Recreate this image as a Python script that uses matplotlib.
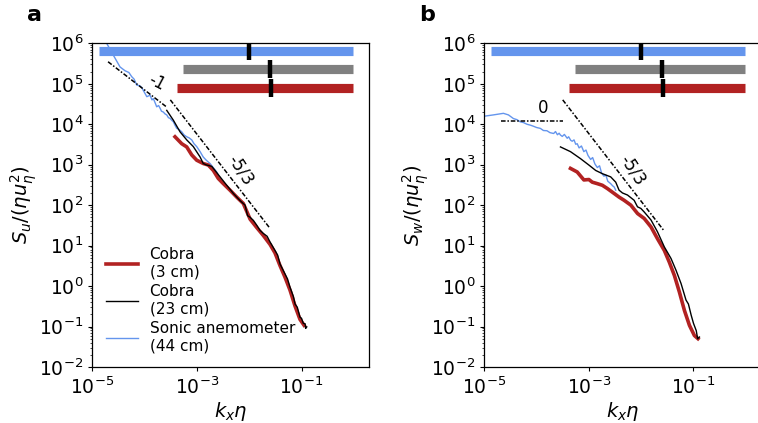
import matplotlib
matplotlib.use("Agg")
import matplotlib.pyplot as plt
from matplotlib.ticker import LogLocator, NullLocator, NullFormatter

# ---------------- data ----------------
# Panel a : streamwise spectra
a_sonic_x = [1.6e-5, 1.88e-5, 2.52e-5, 3.39e-5, 4.22e-5, 5.0e-5, 5.66e-5, 6.3e-5, 7.06e-5, 8.0e-5,
             8.79e-5, 1.0e-4, 1.10e-4, 1.27e-4, 1.38e-4, 1.47e-4, 1.6e-4, 1.70e-4, 1.85e-4, 1.97e-4,
             2.1e-4, 2.28e-4, 2.45e-4, 2.65e-4, 2.85e-4, 3.06e-4, 3.3e-4, 3.54e-4, 3.8e-4, 4.11e-4,
             4.5e-4, 5.12e-4, 5.7e-4, 6.38e-4, 7.1e-4, 7.96e-4, 8.8e-4, 9.91e-4, 1.15e-3, 1.32e-3,
             1.5e-3, 1.78e-3, 2.05e-3, 2.39e-3, 2.7e-3, 2.98e-3]
a_sonic_y = [1.5e6, 1.0e6, 5.1e5, 2.6e5, 2.1e5, 1.9e5, 1.5e5, 1.3e5, 9.3e4, 9.0e4,
             8.1e4, 6.0e4, 4.8e4, 5.2e4, 4.0e4, 4.3e4, 3.3e4, 2.7e4, 2.9e4, 2.5e4,
             2.1e4, 2.0e4, 1.8e4, 1.7e4, 1.45e4, 1.4e4, 1.25e4, 1.15e4, 9.5e3, 7.9e3,
             7.5e3, 6.5e3, 5.4e3, 4.9e3, 4.6e3, 4.1e3, 3.3e3, 2.8e3, 2.1e3, 1.55e3,
             1.3e3, 1.07e3, 850, 660, 480, 370]

a_cobra23_x = [2.65e-4, 3.54e-4, 4.75e-4, 6.38e-4, 8.53e-4, 1.15e-3, 1.32e-3, 1.54e-3, 1.92e-3, 2.22e-3,
               2.77e-3, 3.72e-3, 4.97e-3, 6.67e-3, 8.32e-3, 9.3e-3, 1.04e-2, 1.2e-2, 1.39e-2, 1.6e-2,
               1.86e-2, 2.2e-2, 2.50e-2, 3.11e-2, 3.5e-2, 3.88e-2, 4.83e-2, 5.4e-2, 6.03e-2, 7.0e-2,
               7.52e-2, 8.3e-2, 9.35e-2, 1.0e-1, 1.08e-1, 1.17e-1, 1.2e-1, 1.26e-1]
a_cobra23_y = [2.2e4, 1.26e4, 6.5e3, 4.1e3, 2.8e3, 1.55e3, 1.07e3, 980, 910, 720,
               500, 310, 195, 130, 100, 55, 50, 42, 32, 24,
               20, 17, 12.3, 7.6, 5.8, 3.5, 2.0, 1.5, 0.93, 0.55,
               0.36, 0.30, 0.17, 0.16, 0.12, 0.117, 0.09, 0.098]

a_cobra3_x = [3.81e-4, 5.12e-4, 6.38e-4, 7.96e-4, 9.91e-4, 1.32e-3, 1.65e-3, 2.06e-3, 2.56e-3, 3.20e-3,
              4.30e-3, 5.77e-3, 7.71e-3, 1.04e-2, 1.39e-2, 1.86e-2, 2.50e-2, 3.11e-2, 3.88e-2, 4.83e-2,
              6.03e-2, 7.52e-2, 9.35e-2, 1.12e-1]
a_cobra3_y = [4.9e3, 3.3e3, 2.75e3, 1.74e3, 1.29e3, 1.07e3, 980, 720, 457, 340,
              234, 158, 110, 45, 28, 17.8, 10.7, 6.6, 3.2, 1.66,
              0.79, 0.32, 0.15, 0.107]

# Panel b : vertical spectra
b_sonic_x = [1.0e-5, 1.49e-5, 2.32e-5, 2.9e-5, 3.61e-5, 4.2e-5, 4.86e-5, 5.6e-5, 6.53e-5, 7.6e-5,
             8.75e-5, 1.0e-4, 1.18e-4, 1.35e-4, 1.58e-4, 1.8e-4, 2.12e-4, 2.3e-4, 2.5e-4, 2.7e-4,
             2.86e-4, 3.1e-4, 3.4e-4, 3.85e-4, 4.1e-4, 4.5e-4, 4.8e-4, 5.2e-4, 5.6e-4, 5.98e-4,
             6.5e-4, 7.2e-4, 8.0e-4, 8.8e-4, 9.6e-4, 1.08e-3, 1.18e-3, 1.3e-3, 1.45e-3, 1.6e-3,
             1.75e-3, 1.94e-3, 2.1e-3, 2.3e-3, 2.61e-3, 2.85e-3, 3.05e-3, 3.26e-3]
b_sonic_y = [1.58e4, 1.7e4, 1.86e4, 1.7e4, 1.38e4, 1.3e4, 1.15e4, 1.1e4, 1.0e4, 9.5e3,
             8.9e3, 8.3e3, 7.9e3, 7.0e3, 6.9e3, 6.2e3, 5.9e3, 6.6e3, 5.5e3, 6.0e3,
             5.4e3, 5.0e3, 5.6e3, 4.5e3, 4.9e3, 4.0e3, 3.8e3, 4.1e3, 3.2e3, 3.3e3,
             2.6e3, 2.9e3, 2.1e3, 2.3e3, 1.7e3, 1.35e3, 1.5e3, 1.05e3, 850, 940,
             620, 520, 560, 390, 340, 300, 280, 234]

b_cobra23_x = [2.86e-4, 4.45e-4, 6.92e-4, 1.0e-3, 1.35e-3, 1.81e-3, 2.61e-3, 3.26e-3, 3.78e-3, 4.39e-3,
               5.47e-3, 7.33e-3, 8.5e-3, 9.86e-3, 1.14e-2, 1.54e-2, 2.05e-2, 2.77e-2, 3.72e-2, 4.64e-2,
               5.79e-2, 7.20e-2, 8.0e-2, 9.04e-2, 1.0e-1, 1.13e-1, 1.2e-1, 1.30e-1]
b_cobra23_y = [2.75e3, 2.1e3, 1.41e3, 980, 720, 600, 500, 370, 234, 200,
               178, 132, 91, 83, 68, 43, 21.9, 9.3, 4.8, 2.45,
               1.15, 0.45, 0.36, 0.19, 0.12, 0.079, 0.05, 0.055]

b_cobra3_x = [4.45e-4, 5.98e-4, 8.02e-4, 1.0e-3, 1.16e-3, 1.45e-3, 1.81e-3, 2.26e-3, 3.03e-3, 3.78e-3,
              4.71e-3, 6.34e-3, 8.53e-3, 1.14e-2, 1.54e-2, 2.05e-2, 2.77e-2, 3.45e-2, 4.32e-2, 5.38e-2,
              6.71e-2, 8.37e-2, 1.04e-1, 1.22e-1]
b_cobra3_y = [810, 660, 420, 430, 370, 340, 310, 257, 195, 158,
              132, 100, 62, 47, 29, 14.8, 7.6, 3.9, 1.82, 0.71,
              0.25, 0.107, 0.060, 0.050]

# reference slopes
a_m1_x = [2.0e-5, 2.6e-4]
a_m1_y = [3.5e5, 2.7e4]
a_m53_x = [3.1e-4, 2.5e-2]
a_m53_y = [4.0e4, 26.6]
b_0_x = [2.1e-5, 3.2e-4]
b_0_y = [1.2e4, 1.2e4]
b_m53_x = [3.16e-4, 2.75e-2]
b_m53_y = [4.0e4, 23.0]

# scale-range bars: sonic, cobra 23 cm, cobra 3 cm
bar_start = [1.34e-5, 5.4e-4, 4.2e-4]
bar_end = [0.97, 0.97, 0.97]
bar_level = [6.4e5, 2.38e5, 7.8e4]
bar_mark = [1.0e-2, 2.45e-2, 2.6e-2]
bar_colors = ["#6495ED", "#808080", "#B22222"]

labels = ["Cobra\n(3 cm)", "Cobra\n(23 cm)", "Sonic anemometer\n(44 cm)"]

RED = "#B22222"
BLUE = "#6495ED"

plt.rcParams['font.family'] = ['DejaVu Sans']
plt.rcParams['mathtext.fontset'] = 'dejavusans'

fig = plt.figure(figsize=(7.58, 4.23), dpi=100)
axA = fig.add_axes([0.1218, 0.1324, 0.3650, 0.7652])
axB = fig.add_axes([0.6389, 0.1324, 0.3650, 0.7652])

def style(ax):
    ax.set_xscale('log')
    ax.set_yscale('log')
    ax.set_xlim(1e-5, 1.95)
    ax.set_ylim(1e-2, 1e6)
    ax.set_xticks([1e-5, 1e-3, 1e-1])
    ax.xaxis.set_minor_locator(NullLocator())
    ax.set_yticks([10.0**k for k in range(-2, 7)])
    ax.yaxis.set_minor_locator(LogLocator(base=10, subs=range(2, 10), numticks=20))
    ax.yaxis.set_minor_formatter(NullFormatter())
    ax.tick_params(which='major', length=3, width=0.8, labelsize=13.5, pad=3.5)
    ax.tick_params(which='minor', length=1.6, width=0.5)
    for s in ax.spines.values():
        s.set_linewidth(0.9)
    ax.set_xlabel(r'$k_x\eta$', fontsize=14, labelpad=2)

def bars(ax):
    for s, e, lv, m, c in zip(bar_start, bar_end, bar_level, bar_mark, bar_colors):
        ax.plot([s, e], [lv, lv], color=c, lw=6.6, solid_capstyle='butt', zorder=3)
        ax.plot([m], [lv], marker='|', ms=13, mew=3.2, color='black', zorder=4)

ref_ls = (0, (3, 1.2, 1, 1.2))

# ---------- panel a ----------
style(axA)
bars(axA)
axA.plot(a_sonic_x, a_sonic_y, color=BLUE, lw=1.0, zorder=2)
axA.plot(a_cobra3_x, a_cobra3_y, color=RED, lw=2.6, zorder=2)
axA.plot(a_cobra23_x, a_cobra23_y, color='black', lw=1.0, zorder=2)
axA.plot(a_m1_x, a_m1_y, color='black', lw=1.1, ls=ref_ls)
axA.plot(a_m53_x, a_m53_y, color='black', lw=1.1, ls=ref_ls)
axA.text(1.74e-4, 1.1e5, '-1', fontsize=12, rotation=-28, ha='center', va='center')
axA.text(6.8e-3, 7.5e2, '-5/3', fontsize=12, rotation=-57, ha='center', va='center')
axA.set_ylabel(r'$S_u/(\eta u_\eta^2)$', fontsize=14, labelpad=0)

hA = [plt.Line2D([], [], color=RED, lw=2.6),
      plt.Line2D([], [], color='black', lw=1.0),
      plt.Line2D([], [], color=BLUE, lw=1.0)]
axA.legend(hA, labels, loc='lower left', bbox_to_anchor=(0.0, 0.0), frameon=False,
           fontsize=11, handlelength=2.1, handletextpad=0.75, labelspacing=0.3,
           borderaxespad=0.5)
fig.text(0.045, 0.965, 'a', fontsize=16, fontweight='bold', ha='center', va='center')

# ---------- panel b ----------
style(axB)
bars(axB)
axB.plot(b_sonic_x, b_sonic_y, color=BLUE, lw=1.0, zorder=2)
axB.plot(b_cobra3_x, b_cobra3_y, color=RED, lw=2.6, zorder=2)
axB.plot(b_cobra23_x, b_cobra23_y, color='black', lw=1.0, zorder=2)
axB.plot(b_0_x, b_0_y, color='black', lw=1.1, ls=ref_ls)
axB.plot(b_m53_x, b_m53_y, color='black', lw=1.1, ls=ref_ls)
axB.text(1.36e-4, 2.45e4, '0', fontsize=12, ha='center', va='center')
axB.text(6.8e-3, 7.2e2, '-5/3', fontsize=12, rotation=-57, ha='center', va='center')
axB.set_ylabel(r'$S_w/(\eta u_\eta^2)$', fontsize=14, labelpad=0)
fig.text(0.563, 0.965, 'b', fontsize=16, fontweight='bold', ha='center', va='center')

fig.savefig('out.png', dpi=100)
